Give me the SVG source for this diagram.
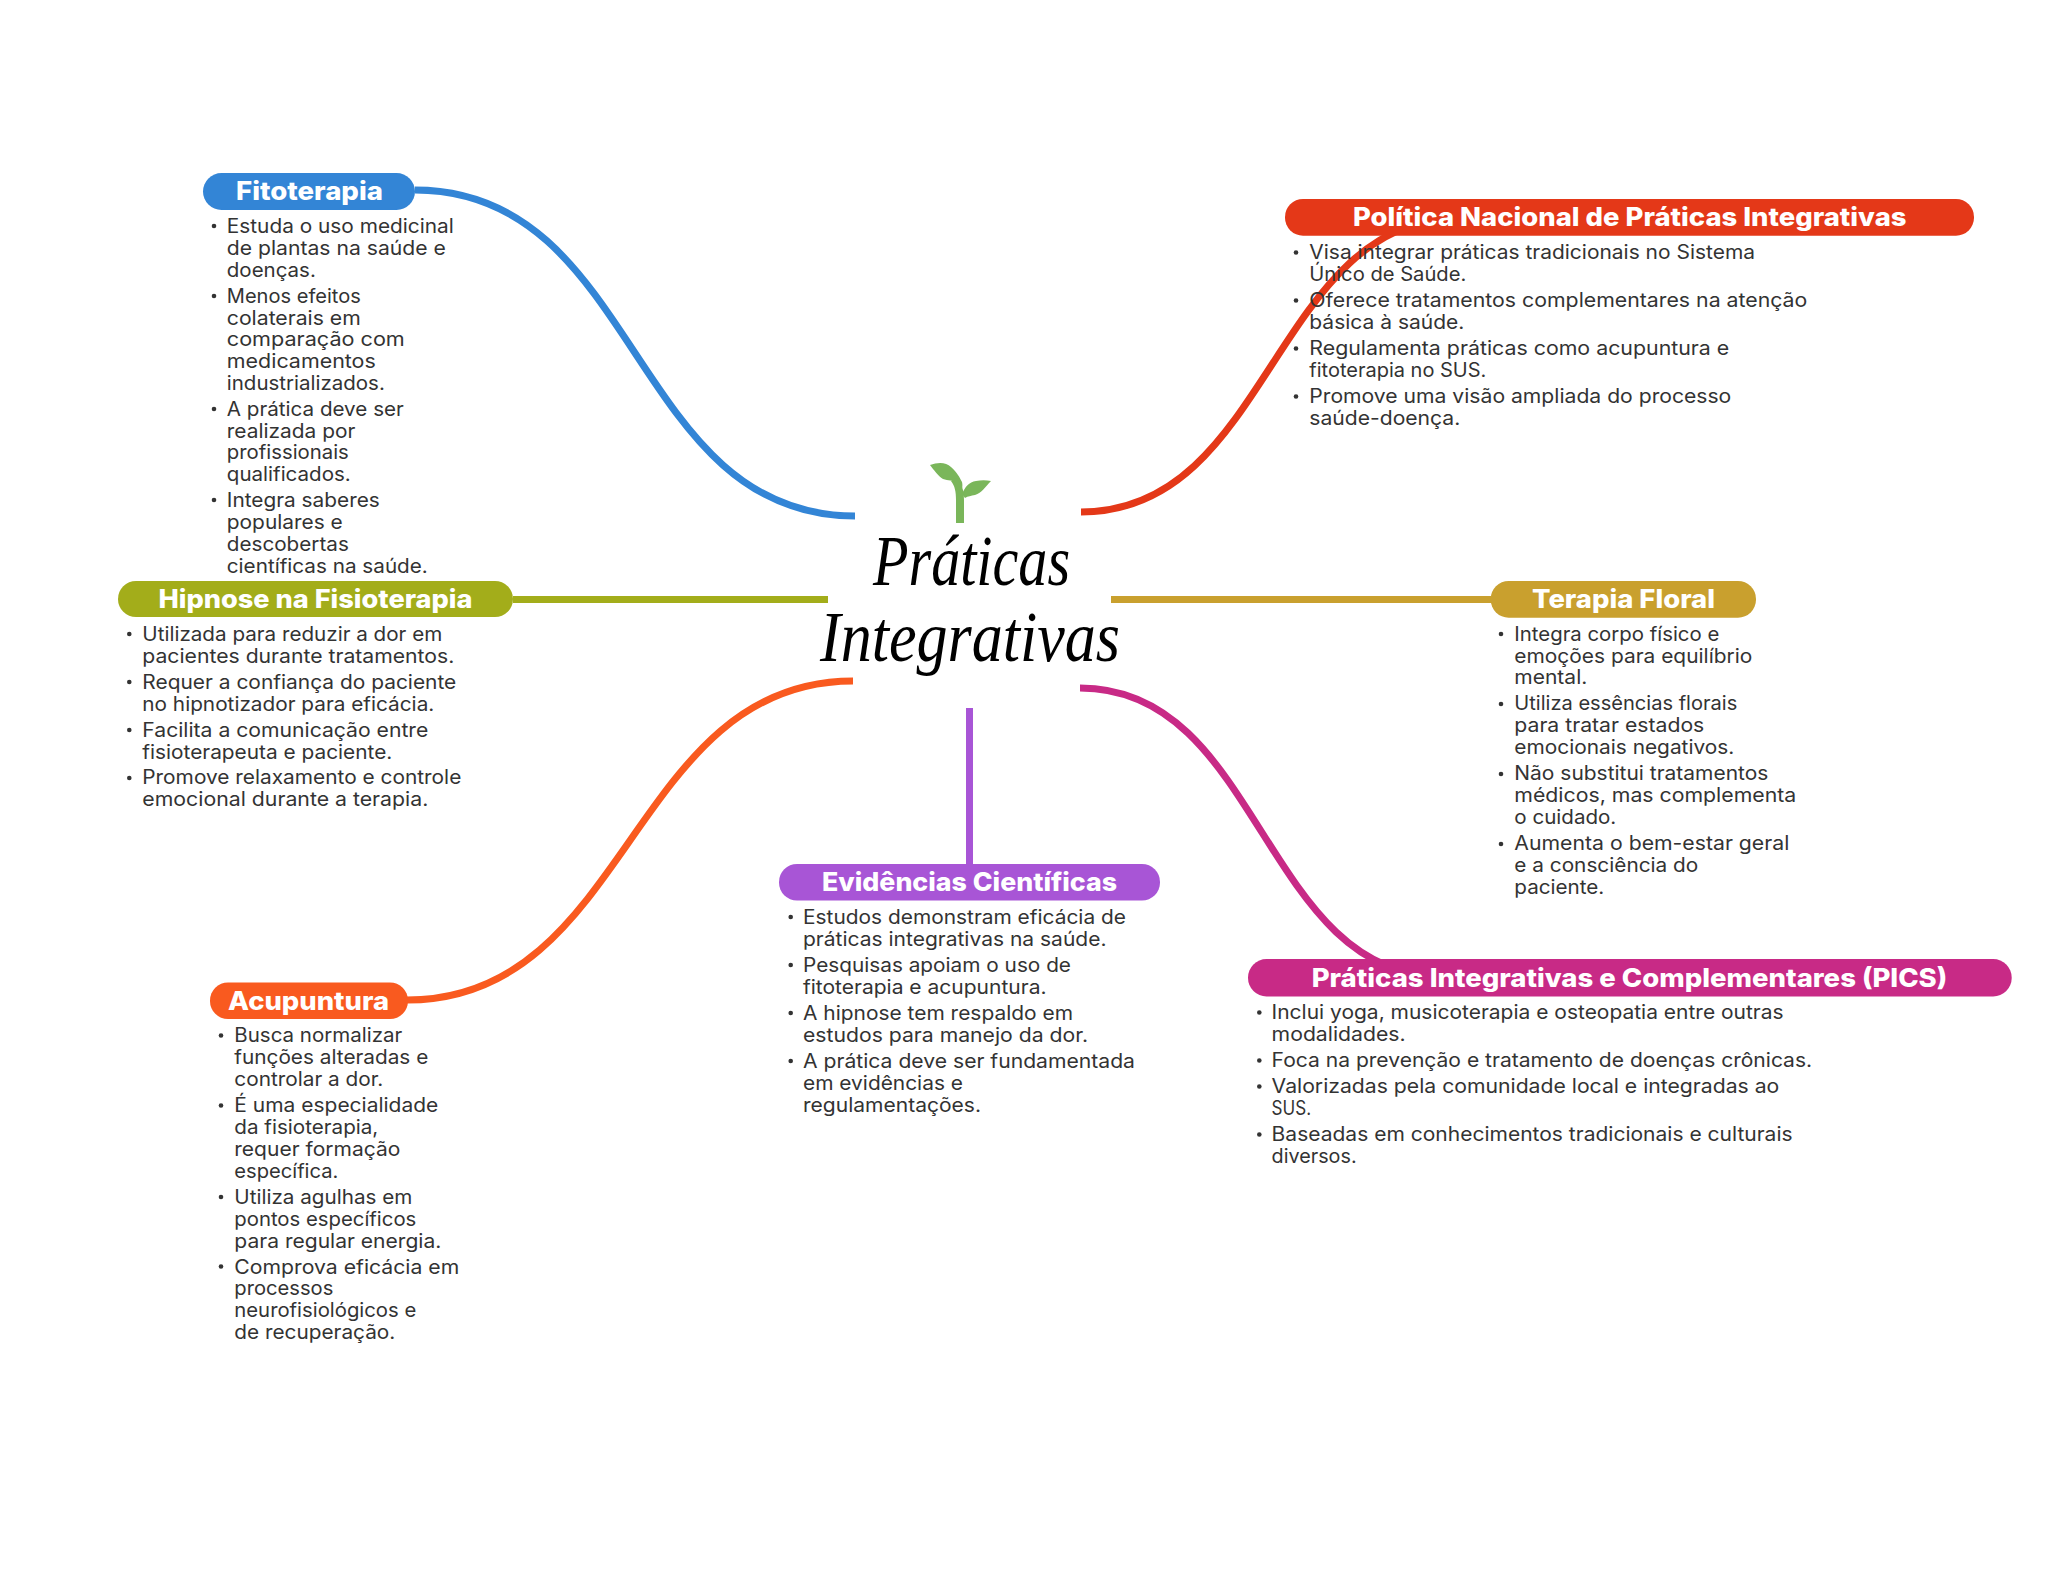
<svg xmlns="http://www.w3.org/2000/svg" width="2048" height="1569" viewBox="0 0 2048 1569">
<style>
.c{fill:none;stroke-width:7}
.t{font-family:Inter,"Open Sans","Liberation Sans",sans-serif;font-weight:800;font-size:25.5px;fill:#fff}
.b{font-family:Inter,"Open Sans","Liberation Sans",sans-serif;font-weight:400;font-size:19.5px;fill:#333;transform:translateX(-.7px)}
.d{fill:#333}
.h{font-family:"Liberation Serif",serif;font-style:italic;font-size:72px;fill:#000}
</style>
<rect width="2048" height="1569" fill="#fff"/>
<g id="connectors">
<path class="c" stroke="#3385D6" d="M415 190C640 190 630 516 855 516"/>
<path class="c" stroke="#E43818" d="M1081 512C1272 512 1272 217 1463 217"/>
<path class="c" stroke="#A3AD1A" d="M513 599.5H828"/>
<path class="c" stroke="#C9A02E" d="M1111 599.5H1491"/>
<path class="c" stroke="#F95A1F" d="M853 681C630 681 630 1000 407 1000"/>
<path class="c" stroke="#A855D6" d="M969.5 708V864"/>
<path class="c" stroke="#C82A86" d="M1080 688C1262 688 1262 977 1444 977"/>
</g>
<g id="center">
<g fill="#7AB65A">
<path d="M930 465C938 462 946 462 951 467C957 472 960 478 962 482C963 486 962 490 961 490L957 482C953 480 948 481 943 479C938 476 934 470 930 465Z"/>
<path d="M991 481C985 487 982 493 975 495C971 496 968 496 965 498L962 494C965 487 969 482 976 481C981 480 986 480 991 481Z"/>
<path d="M956 478C962 484 964 490 964 500V523H956V500C956 492 955 486 951 481Z"/>
</g>
<text class="h" x="873" y="585" textLength="197" lengthAdjust="spacingAndGlyphs">Práticas</text>
<text class="h" x="820" y="661" textLength="300" lengthAdjust="spacingAndGlyphs">Integrativas</text>
</g>
<g id="fitoterapia">
<rect x="203" y="173" width="212" height="37" rx="18.5" fill="#3385D6"/>
<text class="t" x="236" y="200" textLength="147" lengthAdjust="spacingAndGlyphs">Fitoterapia</text>
<circle class="d" cx="214" cy="226" r="2.3"/><circle class="d" cx="214" cy="296" r="2.3"/><circle class="d" cx="214" cy="409" r="2.3"/><circle class="d" cx="214" cy="500" r="2.3"/>
<text class="b" x="227.5" y="233" textLength="227" lengthAdjust="spacingAndGlyphs">Estuda o uso medicinal</text>
<text class="b" x="227.5" y="254.7" textLength="219" lengthAdjust="spacingAndGlyphs">de plantas na saúde e</text>
<text class="b" x="227.5" y="276.5" textLength="89" lengthAdjust="spacingAndGlyphs">doenças.</text>
<text class="b" x="227.5" y="302.7" textLength="134" lengthAdjust="spacingAndGlyphs">Menos efeitos</text>
<text class="b" x="227.5" y="324.5" textLength="134" lengthAdjust="spacingAndGlyphs">colaterais em</text>
<text class="b" x="227.5" y="346.3" textLength="178" lengthAdjust="spacingAndGlyphs">comparação com</text>
<text class="b" x="227.5" y="368" textLength="149" lengthAdjust="spacingAndGlyphs">medicamentos</text>
<text class="b" x="227.5" y="390" textLength="158" lengthAdjust="spacingAndGlyphs">industrializados.</text>
<text class="b" x="227.5" y="415.7" textLength="177" lengthAdjust="spacingAndGlyphs">A prática deve ser</text>
<text class="b" x="227.5" y="437.5" textLength="128.5" lengthAdjust="spacingAndGlyphs">realizada por</text>
<text class="b" x="227.5" y="459.3" textLength="122" lengthAdjust="spacingAndGlyphs">profissionais</text>
<text class="b" x="227.5" y="481" textLength="124" lengthAdjust="spacingAndGlyphs">qualificados.</text>
<text class="b" x="227.5" y="507" textLength="153" lengthAdjust="spacingAndGlyphs">Integra saberes</text>
<text class="b" x="227.5" y="529" textLength="116" lengthAdjust="spacingAndGlyphs">populares e</text>
<text class="b" x="227.5" y="551" textLength="122" lengthAdjust="spacingAndGlyphs">descobertas</text>
<text class="b" x="227.5" y="572.5" textLength="201" lengthAdjust="spacingAndGlyphs">científicas na saúde.</text>
</g>
<g id="hipnose">
<rect x="118" y="581" width="395" height="36" rx="18" fill="#A3AD1A"/>
<text class="t" x="158.5" y="608" textLength="314" lengthAdjust="spacingAndGlyphs">Hipnose na Fisioterapia</text>
<circle class="d" cx="129.3" cy="634" r="2.3"/><circle class="d" cx="129.3" cy="682" r="2.3"/><circle class="d" cx="129.3" cy="730" r="2.3"/><circle class="d" cx="129.3" cy="778" r="2.3"/>
<text class="b" x="143" y="640.7" textLength="300" lengthAdjust="spacingAndGlyphs">Utilizada para reduzir a dor em</text>
<text class="b" x="143" y="662.5" textLength="312" lengthAdjust="spacingAndGlyphs">pacientes durante tratamentos.</text>
<text class="b" x="143" y="688.7" textLength="314" lengthAdjust="spacingAndGlyphs">Requer a confiança do paciente</text>
<text class="b" x="143" y="710.5" textLength="292" lengthAdjust="spacingAndGlyphs">no hipnotizador para eficácia.</text>
<text class="b" x="143" y="736.7" textLength="286" lengthAdjust="spacingAndGlyphs">Facilita a comunicação entre</text>
<text class="b" x="143" y="758.5" textLength="250" lengthAdjust="spacingAndGlyphs">fisioterapeuta e paciente.</text>
<text class="b" x="143" y="784.3" textLength="319" lengthAdjust="spacingAndGlyphs">Promove relaxamento e controle</text>
<text class="b" x="143" y="806" textLength="286" lengthAdjust="spacingAndGlyphs">emocional durante a terapia.</text>
</g>
<g id="acupuntura">
<rect x="210" y="982.5" width="198" height="36.5" rx="18" fill="#F95A1F"/>
<text class="t" x="228" y="1010" textLength="161" lengthAdjust="spacingAndGlyphs">Acupuntura</text>
<circle class="d" cx="221" cy="1035.5" r="2.3"/><circle class="d" cx="221" cy="1105.5" r="2.3"/><circle class="d" cx="221" cy="1197" r="2.3"/><circle class="d" cx="221" cy="1266.5" r="2.3"/>
<text class="b" x="235" y="1042" textLength="168" lengthAdjust="spacingAndGlyphs">Busca normalizar</text>
<text class="b" x="235" y="1064" textLength="194" lengthAdjust="spacingAndGlyphs">funções alteradas e</text>
<text class="b" x="235" y="1086" textLength="149" lengthAdjust="spacingAndGlyphs">controlar a dor.</text>
<text class="b" x="235" y="1112" textLength="204" lengthAdjust="spacingAndGlyphs">É uma especialidade</text>
<text class="b" x="235" y="1134" textLength="144" lengthAdjust="spacingAndGlyphs">da fisioterapia,</text>
<text class="b" x="235" y="1156" textLength="166" lengthAdjust="spacingAndGlyphs">requer formação</text>
<text class="b" x="235" y="1178" textLength="104" lengthAdjust="spacingAndGlyphs">específica.</text>
<text class="b" x="235" y="1204" textLength="178" lengthAdjust="spacingAndGlyphs">Utiliza agulhas em</text>
<text class="b" x="235" y="1226" textLength="182" lengthAdjust="spacingAndGlyphs">pontos específicos</text>
<text class="b" x="235" y="1247.5" textLength="207" lengthAdjust="spacingAndGlyphs">para regular energia.</text>
<text class="b" x="235" y="1273.5" textLength="225" lengthAdjust="spacingAndGlyphs">Comprova eficácia em</text>
<text class="b" x="235" y="1295" textLength="99" lengthAdjust="spacingAndGlyphs">processos</text>
<text class="b" x="235" y="1317" textLength="182" lengthAdjust="spacingAndGlyphs">neurofisiológicos e</text>
<text class="b" x="235" y="1339" textLength="161" lengthAdjust="spacingAndGlyphs">de recuperação.</text>
</g>
<g id="evidencias">
<rect x="779" y="864" width="381" height="36.5" rx="18" fill="#A855D6"/>
<text class="t" x="822" y="891" textLength="295" lengthAdjust="spacingAndGlyphs">Evidências Científicas</text>
<circle class="d" cx="790.7" cy="917" r="2.3"/><circle class="d" cx="790.7" cy="965" r="2.3"/><circle class="d" cx="790.7" cy="1013" r="2.3"/><circle class="d" cx="790.7" cy="1061" r="2.3"/>
<text class="b" x="803.7" y="924" textLength="323" lengthAdjust="spacingAndGlyphs">Estudos demonstram eficácia de</text>
<text class="b" x="803.7" y="946" textLength="303.5" lengthAdjust="spacingAndGlyphs">práticas integrativas na saúde.</text>
<text class="b" x="803.7" y="972" textLength="268" lengthAdjust="spacingAndGlyphs">Pesquisas apoiam o uso de</text>
<text class="b" x="803.7" y="994" textLength="243.5" lengthAdjust="spacingAndGlyphs">fitoterapia e acupuntura.</text>
<text class="b" x="803.7" y="1020" textLength="270" lengthAdjust="spacingAndGlyphs">A hipnose tem respaldo em</text>
<text class="b" x="803.7" y="1042" textLength="285" lengthAdjust="spacingAndGlyphs">estudos para manejo da dor.</text>
<text class="b" x="803.7" y="1068" textLength="332" lengthAdjust="spacingAndGlyphs">A prática deve ser fundamentada</text>
<text class="b" x="803.7" y="1090" textLength="160" lengthAdjust="spacingAndGlyphs">em evidências e</text>
<text class="b" x="803.7" y="1112" textLength="178" lengthAdjust="spacingAndGlyphs">regulamentações.</text>
</g>
<g id="pics">
<rect x="1248" y="959" width="763.7" height="37.5" rx="18.5" fill="#C82A86"/>
<text class="t" x="1311.7" y="987" textLength="635.6" lengthAdjust="spacingAndGlyphs">Práticas Integrativas e Complementares (PICS)</text>
<circle class="d" cx="1259.3" cy="1012.5" r="2.3"/><circle class="d" cx="1259.3" cy="1060.5" r="2.3"/><circle class="d" cx="1259.3" cy="1086.5" r="2.3"/><circle class="d" cx="1259.3" cy="1134.5" r="2.3"/>
<text class="b" x="1272.3" y="1019" textLength="512" lengthAdjust="spacingAndGlyphs">Inclui yoga, musicoterapia e osteopatia entre outras</text>
<text class="b" x="1272.3" y="1041" textLength="134" lengthAdjust="spacingAndGlyphs">modalidades.</text>
<text class="b" x="1272.3" y="1067" textLength="540.5" lengthAdjust="spacingAndGlyphs">Foca na prevenção e tratamento de doenças crônicas.</text>
<text class="b" x="1272.3" y="1093.3" textLength="507.7" lengthAdjust="spacingAndGlyphs">Valorizadas pela comunidade local e integradas ao</text>
<text class="b" x="1272.3" y="1115.3" textLength="39.5" lengthAdjust="spacingAndGlyphs">SUS.</text>
<text class="b" x="1272.3" y="1141" textLength="521" lengthAdjust="spacingAndGlyphs">Baseadas em conhecimentos tradicionais e culturais</text>
<text class="b" x="1272.3" y="1163" textLength="85" lengthAdjust="spacingAndGlyphs">diversos.</text>
</g>
<g id="floral">
<rect x="1490.7" y="581" width="265.3" height="36.7" rx="18" fill="#C9A02E"/>
<text class="t" x="1532" y="607.7" textLength="183" lengthAdjust="spacingAndGlyphs">Terapia Floral</text>
<circle class="d" cx="1501" cy="634" r="2.3"/><circle class="d" cx="1501" cy="704" r="2.3"/><circle class="d" cx="1501" cy="774" r="2.3"/><circle class="d" cx="1501" cy="844" r="2.3"/>
<text class="b" x="1515" y="640.7" textLength="205" lengthAdjust="spacingAndGlyphs">Integra corpo físico e</text>
<text class="b" x="1515" y="662.7" textLength="238" lengthAdjust="spacingAndGlyphs">emoções para equilíbrio</text>
<text class="b" x="1515" y="684.3" textLength="73" lengthAdjust="spacingAndGlyphs">mental.</text>
<text class="b" x="1515" y="710.3" textLength="223" lengthAdjust="spacingAndGlyphs">Utiliza essências florais</text>
<text class="b" x="1515" y="732.3" textLength="190" lengthAdjust="spacingAndGlyphs">para tratar estados</text>
<text class="b" x="1515" y="754.3" textLength="220" lengthAdjust="spacingAndGlyphs">emocionais negativos.</text>
<text class="b" x="1515" y="780.3" textLength="254" lengthAdjust="spacingAndGlyphs">Não substitui tratamentos</text>
<text class="b" x="1515" y="802" textLength="282" lengthAdjust="spacingAndGlyphs">médicos, mas complementa</text>
<text class="b" x="1515" y="824" textLength="102" lengthAdjust="spacingAndGlyphs">o cuidado.</text>
<text class="b" x="1515" y="850" textLength="275" lengthAdjust="spacingAndGlyphs">Aumenta o bem-estar geral</text>
<text class="b" x="1515" y="872" textLength="184" lengthAdjust="spacingAndGlyphs">e a consciência do</text>
<text class="b" x="1515" y="893.7" textLength="90" lengthAdjust="spacingAndGlyphs">paciente.</text>
</g>
<g id="politica">
<rect x="1285" y="199" width="689" height="36.7" rx="18" fill="#E43818"/>
<text class="t" x="1353" y="226" textLength="553.5" lengthAdjust="spacingAndGlyphs">Política Nacional de Práticas Integrativas</text>
<circle class="d" cx="1296" cy="252.5" r="2.3"/><circle class="d" cx="1296" cy="300.5" r="2.3"/><circle class="d" cx="1296" cy="348.5" r="2.3"/><circle class="d" cx="1296" cy="396.5" r="2.3"/>
<text class="b" x="1310" y="259" textLength="445.7" lengthAdjust="spacingAndGlyphs">Visa integrar práticas tradicionais no Sistema</text>
<text class="b" x="1310" y="281" textLength="157" lengthAdjust="spacingAndGlyphs">Único de Saúde.</text>
<text class="b" x="1310" y="307" textLength="498" lengthAdjust="spacingAndGlyphs">Oferece tratamentos complementares na atenção</text>
<text class="b" x="1310" y="329" textLength="155" lengthAdjust="spacingAndGlyphs">básica à saúde.</text>
<text class="b" x="1310" y="355" textLength="420" lengthAdjust="spacingAndGlyphs">Regulamenta práticas como acupuntura e</text>
<text class="b" x="1310" y="377" textLength="177" lengthAdjust="spacingAndGlyphs">fitoterapia no SUS.</text>
<text class="b" x="1310" y="403" textLength="422" lengthAdjust="spacingAndGlyphs">Promove uma visão ampliada do processo</text>
<text class="b" x="1310" y="425" textLength="151" lengthAdjust="spacingAndGlyphs">saúde-doença.</text>
</g>
</svg>
